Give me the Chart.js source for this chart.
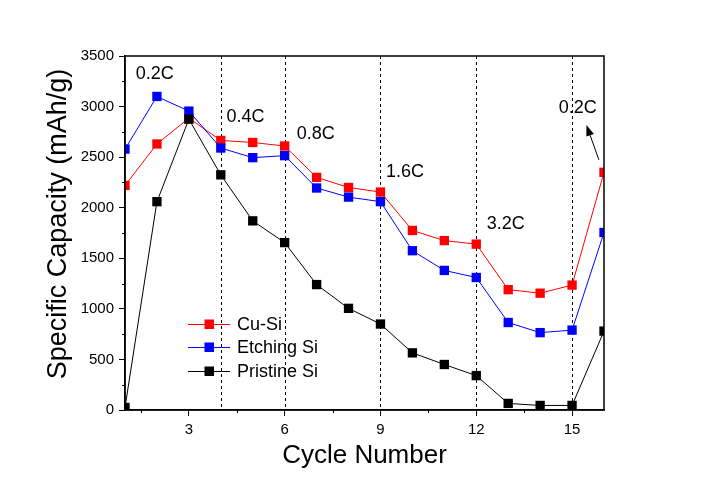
<!DOCTYPE html>
<html>
<head>
<meta charset="utf-8">
<script src="https://cdn.jsdelivr.net/npm/chart.js@4/dist/chart.umd.min.js"></script>
<style>
  html, body { margin: 0; padding: 0; background: #fff; }
  #wrap { width: 706px; height: 496px; }
</style>
</head>
<body>
<div id="wrap"><canvas id="c" width="706" height="496"></canvas></div>
<script>
// ---- data ----
const cycles = [1, 2, 3, 4, 5, 6, 7, 8, 9, 10, 11, 12, 13, 14, 15, 16];
const cuSi = [2220, 2630, 2885, 2665, 2645, 2610, 2300, 2200, 2155, 1775, 1675, 1640, 1190, 1155, 1235, 2350];
const etchingSi = [2580, 3100, 2955, 2590, 2495, 2515, 2195, 2105, 2060, 1575, 1380, 1310, 865, 765, 790, 1755];
const pristineSi = [25, 2060, 2875, 2325, 1870, 1655, 1240, 1005, 850, 565, 450, 340, 65, 45, 45, 780];
const seriesNames = ['Cu-Si', 'Etching Si', 'Pristine Si'];
const xTickValues = [1.5, 3, 4.5, 6, 7.5, 9, 10.5, 12, 13.5, 15];
const rateBoundaries = [4, 6, 9, 12, 15];
const rateLabels = ['0.2C', '0.4C', '0.8C', '1.6C', '3.2C', '0.2C'];
// label anchor positions (in data coordinates)
const rateLabelX = [1.93, 4.77, 6.97, 9.77, 12.92, 15.18];
const rateLabelY = [3317, 2893, 2733, 2354, 1840, 2984];
const arrowFrom = [15.84, 2473];
const arrowTo = [15.45, 2819];

const FONT = '"Liberation Sans", Arial, sans-serif';
const colors = ['#ff0000', '#0000ff', '#000000'];

const toPts = arr => arr.map((v, i) => ({ x: cycles[i], y: v }));
const isMajorX = v => v % 3 === 0;
const isMajorY = v => v % 500 === 0;

const decor = {
  id: 'decor',
  beforeDatasetsDraw(chart) {
    const { ctx, chartArea: a, scales: { x } } = chart;
    ctx.save();
    ctx.strokeStyle = '#000';
    ctx.lineWidth = 1;
    ctx.setLineDash([3, 3]);
    rateBoundaries.forEach(v => {
      const px = Math.round(x.getPixelForValue(v)) + 0.5;
      ctx.beginPath();
      ctx.moveTo(px, a.top);
      ctx.lineTo(px, a.bottom);
      ctx.stroke();
    });
    ctx.restore();
  },
  afterDraw(chart) {
    const { ctx, chartArea: a, scales: { x, y } } = chart;
    ctx.save();
    // minor ticks (shorter)
    ctx.strokeStyle = '#000';
    ctx.lineWidth = 1;
    x.ticks.forEach(t => {
      if (!isMajorX(t.value)) {
        const px = Math.round(x.getPixelForValue(t.value)) + 0.5;
        ctx.beginPath(); ctx.moveTo(px, a.bottom); ctx.lineTo(px, a.bottom + 3); ctx.stroke();
      }
    });
    y.ticks.forEach(t => {
      if (!isMajorY(t.value)) {
        const py = Math.round(y.getPixelForValue(t.value)) + 0.5;
        ctx.beginPath(); ctx.moveTo(a.left, py); ctx.lineTo(a.left - 3, py); ctx.stroke();
      }
    });
    // frame
    ctx.lineWidth = 1.5;
    ctx.strokeRect(a.left, a.top, a.right - a.left, a.bottom - a.top);

    // rate labels
    ctx.fillStyle = '#000';
    ctx.font = '18px ' + FONT;
    ctx.textAlign = 'center';
    ctx.textBaseline = 'middle';
    rateLabels.forEach((t, i) => {
      ctx.fillText(t, x.getPixelForValue(rateLabelX[i]), y.getPixelForValue(rateLabelY[i]));
    });

    // arrow
    const x1 = x.getPixelForValue(arrowFrom[0]), y1 = y.getPixelForValue(arrowFrom[1]);
    const x2 = x.getPixelForValue(arrowTo[0]), y2 = y.getPixelForValue(arrowTo[1]);
    const ang = Math.atan2(y2 - y1, x2 - x1);
    ctx.lineWidth = 1;
    ctx.beginPath();
    ctx.moveTo(x1, y1);
    ctx.lineTo(x2 - 6 * Math.cos(ang), y2 - 6 * Math.sin(ang));
    ctx.stroke();
    ctx.beginPath();
    ctx.moveTo(x2, y2);
    ctx.lineTo(x2 - 11 * Math.cos(ang) + 4 * Math.sin(ang), y2 - 11 * Math.sin(ang) - 4 * Math.cos(ang));
    ctx.lineTo(x2 - 11 * Math.cos(ang) - 4 * Math.sin(ang), y2 - 11 * Math.sin(ang) + 4 * Math.cos(ang));
    ctx.closePath();
    ctx.fill();

    // legend
    ctx.textAlign = 'left';
    ctx.font = '18px ' + FONT;
    const lx0 = 188, lx1 = 230, lm = 209, tx = 237;
    const rows = [324, 347, 371];
    seriesNames.forEach((n, i) => {
      const ry = rows[i];
      ctx.strokeStyle = colors[i];
      ctx.lineWidth = 1;
      ctx.beginPath();
      ctx.moveTo(lx0, ry + 0.5);
      ctx.lineTo(lx1, ry + 0.5);
      ctx.stroke();
      ctx.fillStyle = colors[i];
      ctx.fillRect(lm - 4.5, ry - 4.5, 9.5, 9.5);
      ctx.fillStyle = '#000';
      ctx.fillText(n, tx, ry + 1);
    });

    // axis titles
    ctx.fillStyle = '#000';
    ctx.font = '26px ' + FONT;
    ctx.textAlign = 'center';
    ctx.textBaseline = 'alphabetic';
    ctx.fillText('Cycle Number', (a.left + a.right) / 2, 463);
    ctx.save();
    ctx.translate(66, 224);
    ctx.rotate(-Math.PI / 2);
    ctx.font = '27px ' + FONT;
    ctx.fillText('Specific Capacity (mAh/g)', 0, 0);
    ctx.restore();
    ctx.restore();
  }
};

const mk = (label, data, color, order) => ({
  label, data: toPts(data), order,
  borderColor: color, backgroundColor: color,
  borderWidth: 1, tension: 0,
  pointStyle: 'rect', pointRadius: 6.6, pointBorderWidth: 0,
  pointBackgroundColor: color, pointBorderColor: color
});

new Chart(document.getElementById('c'), {
  type: 'line',
  data: {
    datasets: [
      mk(seriesNames[0], cuSi, colors[0], 3),
      mk(seriesNames[1], etchingSi, colors[1], 2),
      mk(seriesNames[2], pristineSi, colors[2], 1)
    ]
  },
  options: {
    responsive: false,
    animation: false,
    events: [],
    layout: { padding: { top: 56, right: 102, left: 0, bottom: 0 } },
    plugins: { legend: { display: false }, tooltip: { enabled: false } },
    scales: {
      x: {
        type: 'linear', min: 1, max: 16,
        afterFit(s) { s.height = 86; },
        afterBuildTicks(s) { s.ticks = xTickValues.map(v => ({ value: v })); },
        grid: {
          drawOnChartArea: false, drawTicks: true, tickLength: 6, lineWidth: 1,
          tickColor: c => (c.tick && isMajorX(c.tick.value) ? '#000' : 'rgba(0,0,0,0)')
        },
        border: { display: true, color: '#000', width: 1.5 },
        ticks: {
          autoSkip: false, maxRotation: 0, padding: 5, color: '#000',
          font: { family: FONT, size: 15 },
          callback: v => (isMajorX(v) ? String(v) : '')
        }
      },
      y: {
        type: 'linear', min: 0, max: 3500,
        afterFit(s) { s.width = 125; },
        grid: {
          drawOnChartArea: false, drawTicks: true, tickLength: 6, lineWidth: 1,
          tickColor: c => (c.tick && isMajorY(c.tick.value) ? '#000' : 'rgba(0,0,0,0)')
        },
        border: { display: true, color: '#000', width: 1.5 },
        ticks: {
          stepSize: 250, padding: 5, color: '#000',
          font: { family: FONT, size: 15 },
          callback: v => (isMajorY(v) ? String(v) : '')
        }
      }
    }
  },
  plugins: [decor]
});
</script>
</body>
</html>
